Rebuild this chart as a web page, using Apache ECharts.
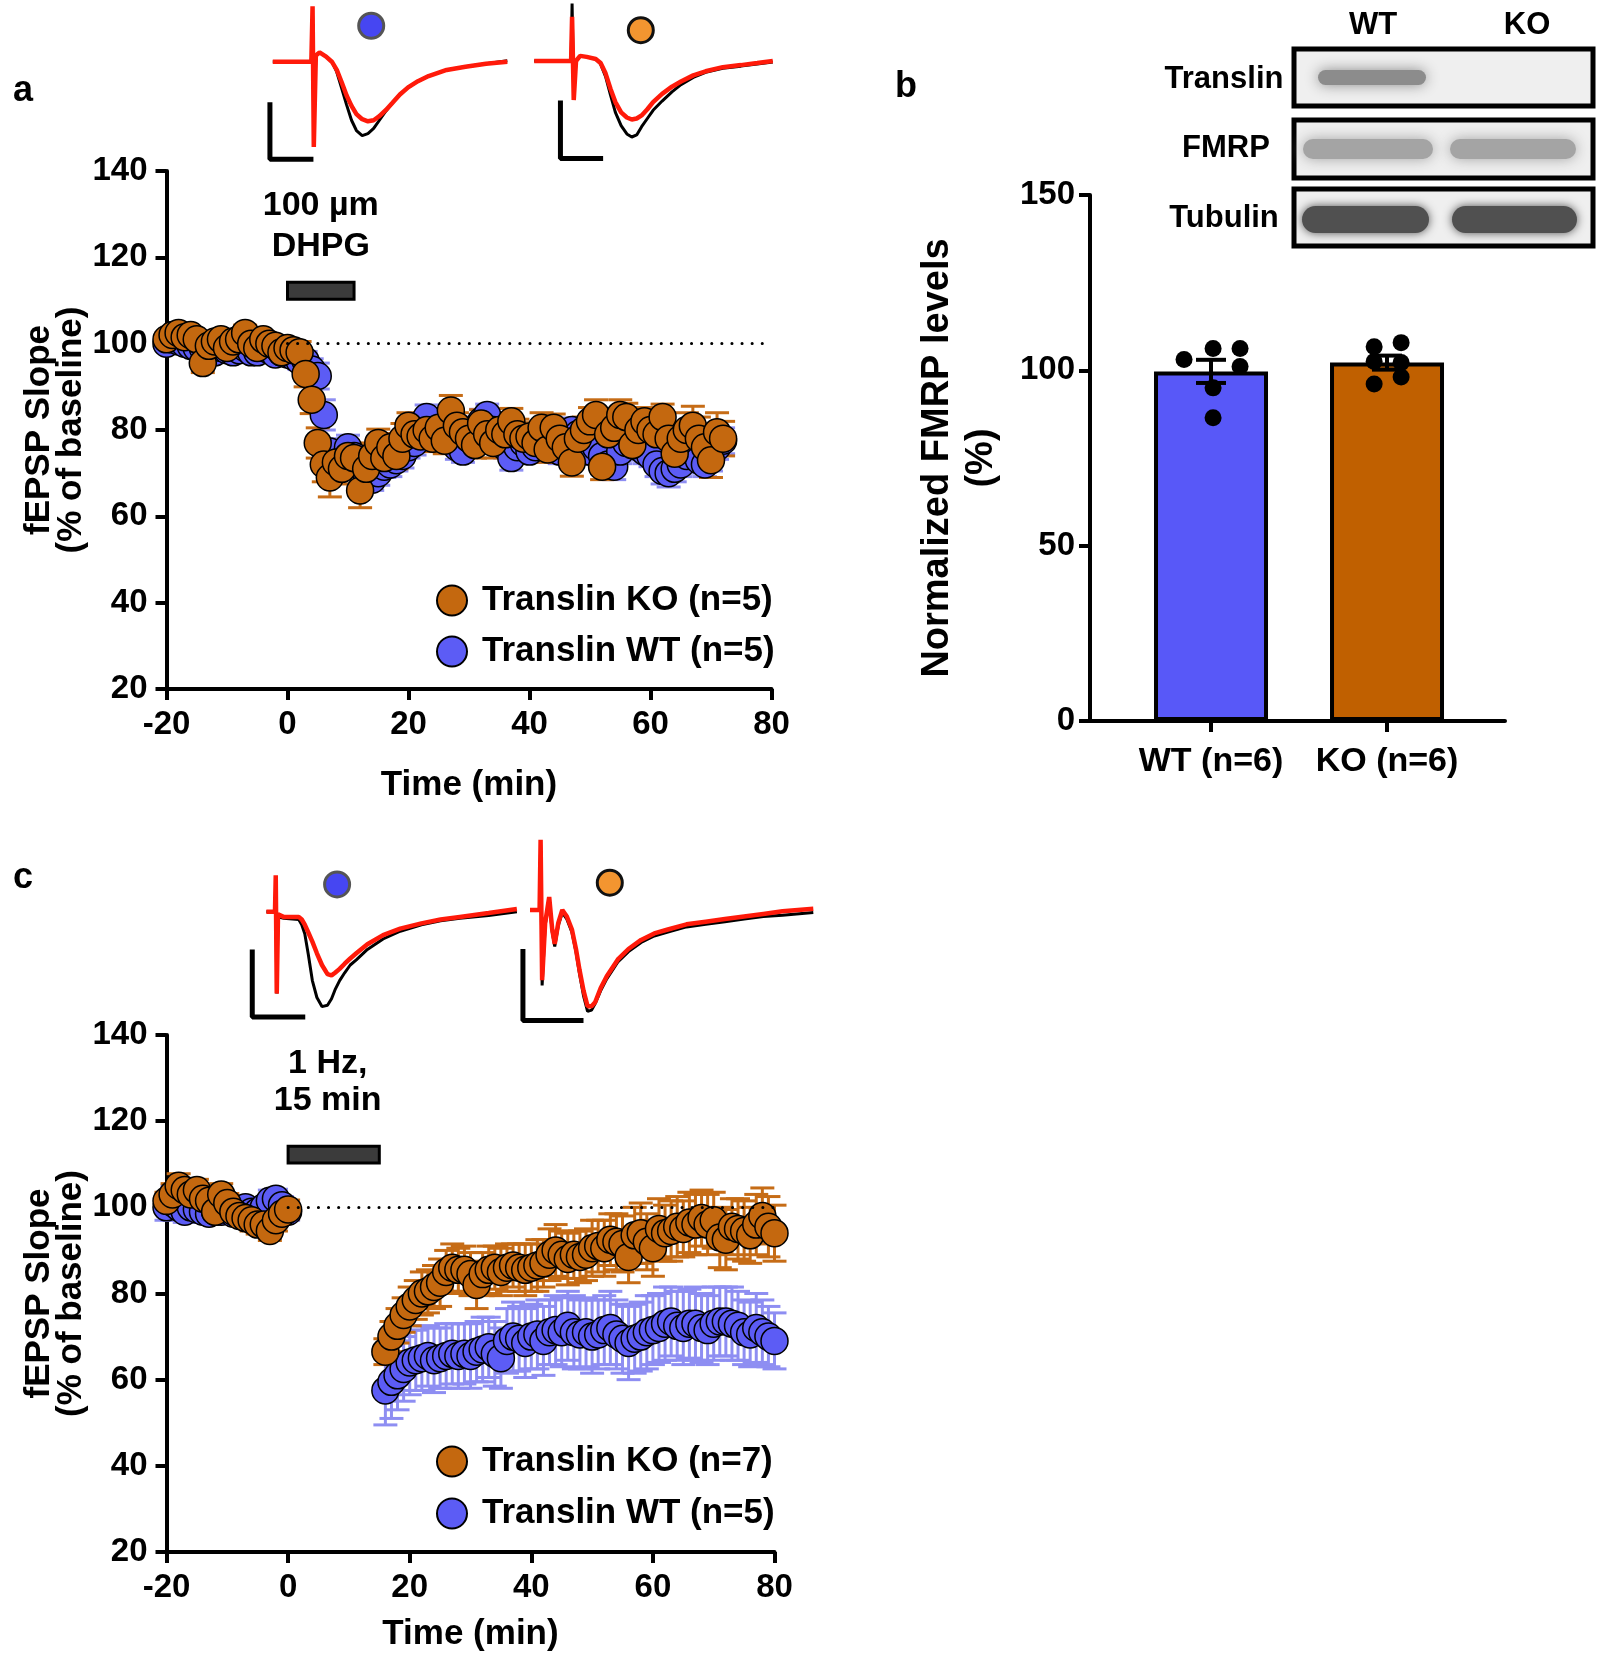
<!DOCTYPE html>
<html>
<head>
<meta charset="utf-8">
<script src="https://cdn.jsdelivr.net/npm/echarts@6/dist/echarts.min.js"></script>
<style>
  html, body { margin: 0; padding: 0; background: #fff; }
  #chart { width: 1600px; height: 1653px; }
</style>
</head>
<body>
<div id="chart"></div>
<script>
// ---- panel a: DHPG LTD (minutes, % of baseline) ----
const aTime = [
  -20, -19, -18, -17, -16, -15, -14, -13, -12, -11,
  -10, -9, -8, -7, -6, -5, -4, -3, -2, -1,
  0, 1, 2, 3, 4, 5, 6, 7, 8, 9,
  10, 11, 12, 13, 14, 15, 16, 17, 18, 19,
  20, 21, 22, 23, 24, 25, 26, 27, 28, 29,
  30, 31, 32, 33, 34, 35, 36, 37, 38, 39,
  40, 41, 42, 43, 44, 45, 46, 47, 48, 49,
  50, 51, 52, 53, 54, 55, 56, 57, 58, 59,
  60, 61, 62, 63, 64, 65, 66, 67, 68, 69,
  70, 71, 72
];
const aKO = [
  101, 102, 102.5, 101.5, 102, 101, 95.5, 99.5, 100.5, 101,
  99, 100.5, 101, 102.5, 100, 99, 101, 100, 99.5, 98,
  99, 98.5, 98, 93, 87, 77, 72, 69, 72.5, 71,
  74, 73.5, 66, 71, 74, 77, 73.5, 76, 74, 78,
  81, 79, 78.5, 80, 78, 80.5, 77.5, 84.5, 81, 79.5,
  78, 76.5, 81.5, 79, 77, 80, 79, 82, 79, 78,
  78.5, 77, 80.5, 75.5, 80.5, 78, 76, 72.5, 78, 80,
  82, 83.5, 71.5, 79, 80.5, 83.5, 83, 76.5, 80, 82,
  80, 79, 83, 78, 74.5, 78, 80, 81, 78, 76,
  73, 79.5, 78
];
const aKOErr = [
  1.5, 1.8, 2, 1.6, 1.5, 1.4, 2.2, 1.6, 1.5, 1.8,
  1.4, 1.6, 2, 1.8, 1.5, 1.6, 1.4, 1.5, 1.6, 1.8,
  2, 2.2, 2.5, 3, 3.2, 3.5, 4, 4.5, 4, 3.5,
  3.5, 3, 4, 3.5, 3, 3.2, 3, 3.2, 3, 3.5,
  3, 3.2, 3, 3.5, 3, 3.2, 3, 3.5, 3, 3.2,
  3.5, 3, 3.2, 3, 3.5, 3, 3.2, 3, 3.5, 3,
  3.2, 3, 3.5, 3, 3.2, 3.5, 3, 3.2, 3.5, 3,
  3.2, 3.5, 3, 3.2, 3, 3.5, 3.2, 3, 3.5, 3.2,
  3.5, 3.2, 3, 3.5, 4, 3.5, 4, 4.5, 5, 4.5,
  4, 4.5, 4
];
const aWT = [
  100, 101, 100.5, 100, 99.5, 99, 99, 98.5, 98, 99,
  98.5, 98, 98.5, 99, 98, 98, 99, 98.5, 97.5, 98,
  97.5, 97, 96, 96, 94, 92.5, 83.5, 75, 72, 73,
  76, 74, 72, 70, 68.5, 70, 71.5, 72, 73, 74,
  76, 77, 79, 83, 80, 79, 78, 79, 76, 75,
  78, 80, 82, 83.5, 80, 78, 76, 73.5, 76, 77,
  75, 76, 78, 77, 76, 75, 77, 80, 79, 77,
  75, 76, 74, 72, 71.5, 75, 77, 78, 76, 75,
  74, 72, 70.5, 70, 71, 72, 74, 75, 73, 72,
  73.5, 76, 77.5
];
const aWTErr = [
  1.2, 1.5, 1.4, 1.2, 1.3, 1.4, 1.2, 1.3, 1.5, 1.2,
  1.3, 1.4, 1.2, 1.5, 1.3, 1.2, 1.4, 1.3, 1.5, 1.4,
  1.5, 1.8, 2, 2.2, 2.5, 3, 3.5, 3, 3, 2.8,
  2.8, 2.5, 2.8, 3, 2.5, 2.8, 2.5, 2.8, 2.5, 2.8,
  2.5, 2.8, 3, 2.8, 3, 2.5, 2.8, 3, 2.8, 2.5,
  2.8, 3, 2.8, 2.5, 2.8, 3, 2.5, 2.8, 3, 2.8,
  2.5, 2.8, 3, 2.8, 2.5, 2.8, 3, 2.8, 2.5, 2.8,
  3, 2.8, 2.5, 2.8, 3, 2.8, 2.5, 2.8, 3, 2.8,
  2.5, 2.8, 3, 3.2, 3, 2.8, 3, 3.2, 3, 2.8,
  3, 2.8, 3
];

// ---- panel c: 1 Hz LFS LTD ----
const cTime = [
  -20, -19, -18, -17, -16, -15, -14, -13, -12, -11,
  -10, -9, -8, -7, -6, -5, -4, -3, -2, -1, 0,
  16, 17, 18, 19, 20, 21, 22, 23, 24, 25,
  26, 27, 28, 29, 30, 31, 32, 33, 34, 35,
  36, 37, 38, 39, 40, 41, 42, 43, 44, 45,
  46, 47, 48, 49, 50, 51, 52, 53, 54, 55,
  56, 57, 58, 59, 60, 61, 62, 63, 64, 65,
  66, 67, 68, 69, 70, 71, 72, 73, 74, 75,
  76, 77, 78, 79, 80
];
const cKO = [
  101.5, 103, 105, 104, 103, 104, 102, 101.5, 99, 103,
  101, 99, 98, 97.5, 97, 96, 96, 94.5, 97, 98.5, 99.5,
  66.5, 70, 72.5, 75, 77, 78.5, 80, 80.5, 81.5, 82.5,
  85, 86, 85.5, 85.5, 84.5, 82, 84.5, 85.5, 86, 85,
  86, 86.5, 86, 85.5, 86, 86.5, 87, 89, 90, 89,
  88, 89, 88.5, 89, 90.5, 91, 90.5, 92.5, 92, 91.5,
  88.5, 93.5, 94, 92, 90.5, 95, 94, 94.5, 95.5, 95,
  96.5, 96, 97.5, 96, 97, 93, 92.5, 95.5, 95, 94.5,
  93.5, 96, 98, 95.5, 94
];
const cKOErr = [
  2, 2.5, 2.8, 2.5, 2.2, 2.5, 2.2, 2, 2.2, 2.5,
  2.2, 2, 2.2, 2, 2.5, 2.2, 2, 2.2, 2.5, 2, 2.2,
  3, 3.5, 4, 4, 4.5, 4.5, 5, 5, 5, 5.5,
  5, 5.5, 5, 5.5, 5, 5.5, 5, 5.5, 5, 5.5,
  5.5, 5, 5.5, 6, 5.5, 6, 5.5, 6, 6, 5.5,
  6, 5.5, 6, 6, 6.5, 6, 6.5, 6, 6.5, 6.5,
  6, 6.5, 7, 6.5, 6.5, 7, 6.5, 7, 7, 6.5,
  7, 7, 6.5, 7, 6.5, 7, 7, 6.5, 7, 7,
  6.5, 7, 6.5, 7, 6.5
];
const cWT = [
  100, 101, 100, 99, 100, 99.5, 99, 98.5, 99, 99,
  99.5, 98.5, 99, 100, 99, 99, 100, 101.5, 102, 100.5, 99,
  57.5, 59.5, 61, 62.5, 64, 64.5, 65, 65.5, 64.5, 65,
  65.5, 66, 65.5, 66, 65.5, 66.5, 67, 67.5, 66, 65,
  69, 70, 69.5, 68.5, 70, 70.5, 69, 71, 71.5, 71,
  72.5, 71, 70.5, 71, 70, 70.5, 71.5, 72, 70.5, 69.5,
  68.5, 69.5, 70, 71, 71.5, 72, 73, 73.5, 72.5, 72,
  73, 73, 72, 71.5, 73, 73.5, 73.5, 73, 72.5, 71,
  70.5, 72, 71, 70, 69
];
const cWTErr = [
  3, 4, 3, 2.5, 2.5, 2, 2.5, 2, 2.2, 2,
  2.5, 2, 2.2, 2, 2.5, 2, 2.2, 2.5, 2.2, 2, 2,
  8, 8.5, 8, 7.5, 7.5, 7, 7.5, 7, 7.5, 7,
  7.5, 7, 7.5, 7, 7.5, 7, 7.5, 7, 7.5, 7,
  7.5, 8, 7.5, 8, 7.5, 8, 8, 7.5, 8, 8,
  8, 8.5, 8, 8, 8.5, 8, 8, 8.5, 8, 8,
  8.5, 8, 8, 8.5, 8, 8, 8.5, 8, 8, 8.5,
  8, 8.5, 8, 8, 8.5, 8, 8, 8.5, 8, 7.5,
  7.5, 8, 7.5, 7, 6.5
];

// ---- panel b: FMRP levels ----
const fmrpGroups = ['WT (n=6)', 'KO (n=6)'];
const fmrpMean = [99.7, 102.2];
const fmrpSem = [3.3, 2.0];
const fmrpWT = [103.1, 106.2, 106.2, 101.1, 95.0, 86.5];
const fmrpKO = [106.7, 107.9, 102.5, 102.2, 96.1, 98.1];

// ---- example traces (ms, mV) ----
const trA1Time  = [0, 4.7, 4.85, 5.0, 5.25, 5.7, 6.5, 7.2, 7.8, 8.4, 9.0, 9.6, 10.2, 10.9, 11.6, 12.3, 13.0, 13.8, 14.6, 15.5, 16.5, 17.7, 19.0, 21.2, 23.5, 26.0, 28.6];
const trA1Black = [0, 0, 0.45, -0.7, 0.06, 0.09, 0.05, 0.0, -0.1, -0.26, -0.42, -0.57, -0.67, -0.72, -0.70, -0.65, -0.57, -0.48, -0.40, -0.32, -0.25, -0.19, -0.14, -0.08, -0.05, -0.02, 0.01];
const trA1Red   = [0, 0, 0.54, -0.83, 0.06, 0.09, 0.05, 0.0, -0.08, -0.2, -0.33, -0.43, -0.51, -0.56, -0.58, -0.57, -0.53, -0.47, -0.40, -0.32, -0.25, -0.19, -0.14, -0.08, -0.05, -0.02, 0.0];

const trA2Time  = [0, 4.5, 4.62, 4.82, 5.1, 5.6, 6.4, 7.5, 8.1, 8.7, 9.3, 9.9, 10.6, 11.3, 11.9, 12.5, 13.1, 13.8, 14.5, 15.6, 16.8, 17.9, 19.4, 20.9, 23.0, 25.2, 27.2, 29.1];
const trA2Black = [0, 0, 0.56, -0.35, 0.0, 0.05, 0.04, 0.02, -0.03, -0.15, -0.33, -0.50, -0.63, -0.71, -0.74, -0.72, -0.64, -0.56, -0.48, -0.39, -0.30, -0.23, -0.16, -0.11, -0.07, -0.05, -0.03, -0.01];
const trA2Red   = [0, 0, 0.43, -0.38, 0.0, 0.05, 0.04, 0.02, -0.02, -0.12, -0.27, -0.40, -0.50, -0.55, -0.57, -0.56, -0.53, -0.47, -0.40, -0.32, -0.25, -0.20, -0.14, -0.10, -0.06, -0.04, -0.02, 0.0];

const trC1Time  = [0, 1.7, 1.85, 2.05, 2.3, 3.4, 6.4, 7.0, 7.6, 8.3, 9.1, 10.0, 11.0, 12.1, 12.9, 13.6, 14.5, 15.5, 16.6, 17.8, 20.0, 23.1, 26.5, 30.7, 34.5, 38.3, 44.0, 49.6];
const trC1Black = [0, 0, 0.24, -0.63, -0.04, -0.05, -0.06, -0.10, -0.17, -0.33, -0.53, -0.66, -0.73, -0.72, -0.67, -0.60, -0.53, -0.47, -0.41, -0.37, -0.29, -0.21, -0.15, -0.10, -0.07, -0.05, -0.03, 0.0];
const trC1Red   = [0, 0, 0.28, -0.63, -0.02, -0.04, -0.04, -0.06, -0.10, -0.16, -0.23, -0.32, -0.41, -0.48, -0.49, -0.47, -0.44, -0.40, -0.36, -0.32, -0.25, -0.18, -0.13, -0.09, -0.06, -0.04, -0.01, 0.02];

const trC2Time  = [0, 1.9, 2.1, 2.4, 3.0, 3.8, 4.4, 4.9, 5.6, 6.4, 7.3, 8.3, 9.1, 9.8, 10.6, 11.4, 12.2, 12.9, 14.0, 15.2, 17.4, 19.5, 22.0, 24.6, 27.3, 31.0, 34.8, 38.6, 42.4, 46.2, 50.0, 56.1];
const trC2Black = [0, 0, 0.5, -0.58, -0.12, 0.08, -0.17, -0.28, -0.12, -0.02, -0.07, -0.17, -0.32, -0.49, -0.66, -0.78, -0.77, -0.72, -0.62, -0.53, -0.40, -0.32, -0.25, -0.20, -0.17, -0.13, -0.11, -0.09, -0.07, -0.05, -0.04, -0.02];
const trC2Red   = [0, 0, 0.54, -0.54, -0.10, 0.10, -0.15, -0.26, -0.10, 0.0, -0.05, -0.15, -0.30, -0.46, -0.62, -0.74, -0.74, -0.71, -0.60, -0.51, -0.38, -0.30, -0.23, -0.18, -0.15, -0.11, -0.09, -0.07, -0.05, -0.03, -0.01, 0.01];

const FONT = "'Liberation Sans', Arial, Helvetica, sans-serif";
const KO_COLOR = '#c4680f';
const WT_COLOR = '#5c5cf5';
const KO_ERR = '#c66c16';
const WT_ERR = '#8e8ef2';

const chart = echarts.init(document.getElementById('chart'));

function pairs(xs, ys) {
  return xs.map((x, i) => [x, ys[i]]);
}
function triples(xs, ys, es) {
  return xs.map((x, i) => [x, ys[i], es[i]]);
}

// vertical error bar with caps on both ends
function errorBar(capHalf, color, width) {
  return function (params, api) {
    const x = api.value(0), y = api.value(1), e = api.value(2);
    const hi = api.coord([x, y + e]);
    const lo = api.coord([x, y - e]);
    const style = { stroke: color, lineWidth: width };
    return {
      type: 'group',
      children: [
        { type: 'line', shape: { x1: hi[0], y1: hi[1], x2: lo[0], y2: lo[1] }, style },
        { type: 'line', shape: { x1: hi[0] - capHalf, y1: hi[1], x2: hi[0] + capHalf, y2: hi[1] }, style },
        { type: 'line', shape: { x1: lo[0] - capHalf, y1: lo[1], x2: lo[0] + capHalf, y2: lo[1] }, style }
      ]
    };
  };
}

// grid placed so that trace origin (0 ms, 0 mV) lands at (x0, y0)
function traceGrid(x0, y0, pxMs, pxMv, tMin, tMax, vMin, vMax) {
  return {
    left: x0 + tMin * pxMs,
    top: y0 - vMax * pxMv,
    width: (tMax - tMin) * pxMs,
    height: (vMax - vMin) * pxMv
  };
}

const axisLineStyle = { lineStyle: { color: '#000', width: 4 }, onZero: false };
const tickStyle = { show: true, length: 11, lineStyle: { color: '#000', width: 4 } };
const tickLabel = { fontSize: 33, fontWeight: 'bold', color: '#000', fontFamily: FONT };

function timeXAxis(gridIndex, nameGap) {
  return {
    type: 'value', gridIndex, min: -20, max: 80, interval: 20,
    axisLine: axisLineStyle, axisTick: tickStyle,
    axisLabel: Object.assign({ margin: 19, showMinLabel: true, showMaxLabel: true }, tickLabel),
    splitLine: { show: false },
    name: 'Time (min)', nameLocation: 'middle', nameGap,
    nameTextStyle: { fontSize: 35, fontWeight: 'bold', color: '#000', fontFamily: FONT }
  };
}
function slopeYAxis(gridIndex) {
  return {
    type: 'value', gridIndex, min: 20, max: 140, interval: 20,
    axisLine: axisLineStyle, axisTick: tickStyle,
    axisLabel: Object.assign({ margin: 19 }, tickLabel),
    splitLine: { show: false },
    name: 'fEPSP Slope\n(% of baseline)', nameLocation: 'middle', nameGap: 73, nameRotate: 90,
    nameTextStyle: { fontSize: 35, fontWeight: 'bold', color: '#000', lineHeight: 32, fontFamily: FONT }
  };
}
function hiddenAxis(gridIndex, min, max) {
  return { type: 'value', gridIndex, min, max, show: false, splitLine: { show: false } };
}

const fmrpPos = [0.2916, 0.7157];
const wtJitter = [-0.065, 0.005, 0.07, 0.07, 0.005, 0.005];
const koJitter = [-0.031, 0.034, -0.031, 0.034, -0.031, 0.034];

function stimMarkers(gridIndex, t1, label, offsetX, distance, lineHeight) {
  return {
    type: 'line', xAxisIndex: gridIndex, yAxisIndex: gridIndex, data: [], z: 1,
    markLine: {
      silent: true, symbol: ['none', 'none'],
      lineStyle: { color: '#000', width: 3, type: [0.1, 10], cap: 'round' },
      label: { show: false },
      data: [[{ coord: [0, 100] }, { coord: [80, 100] }]]
    },
    markArea: {
      silent: true,
      itemStyle: { color: '#3b3b3b', borderColor: '#000', borderWidth: 3 },
      label: {
        show: true, position: 'top', formatter: label, distance, offset: [offsetX, 0],
        fontSize: 34, fontWeight: 'bold', color: '#000', lineHeight, fontFamily: FONT, align: 'center'
      },
      data: [[{ coord: [0, 110.3] }, { coord: [t1, 114.2] }]]
    }
  };
}

function panelSeries(gridIndex, time, ko, koErr, wt, wtErr, koName, wtName) {
  return [
    {
      type: 'custom', xAxisIndex: gridIndex, yAxisIndex: gridIndex, z: 2,
      renderItem: errorBar(12, WT_ERR, 3), data: triples(time, wt, wtErr)
    },
    {
      type: 'custom', xAxisIndex: gridIndex, yAxisIndex: gridIndex, z: 2,
      renderItem: errorBar(12, KO_ERR, 3), data: triples(time, ko, koErr)
    },
    {
      name: wtName, type: 'scatter', xAxisIndex: gridIndex, yAxisIndex: gridIndex, z: 3,
      symbol: 'circle', symbolSize: 27,
      itemStyle: { color: WT_COLOR, borderColor: '#000', borderWidth: 1.5, opacity: 1 },
      data: pairs(time, wt)
    },
    {
      name: koName, type: 'scatter', xAxisIndex: gridIndex, yAxisIndex: gridIndex, z: 4,
      symbol: 'circle', symbolSize: 27,
      itemStyle: { color: KO_COLOR, borderColor: '#000', borderWidth: 1.5, opacity: 1 },
      data: pairs(time, ko)
    }
  ];
}

function traceSeries(gridIndex, time, black, red, scaleBar, dot, dotFill, dotStroke) {
  return [
    {
      type: 'line', xAxisIndex: gridIndex, yAxisIndex: gridIndex, showSymbol: false, z: 2,
      lineStyle: { color: '#000', width: 3 }, data: pairs(time, black)
    },
    {
      type: 'line', xAxisIndex: gridIndex, yAxisIndex: gridIndex, showSymbol: false, z: 3,
      lineStyle: { color: '#ff1a0a', width: 4.5 }, data: pairs(time, red)
    },
    {
      type: 'line', xAxisIndex: gridIndex, yAxisIndex: gridIndex, showSymbol: false, z: 2,
      lineStyle: { color: '#000', width: 5, cap: 'square' }, data: scaleBar
    },
    {
      type: 'scatter', xAxisIndex: gridIndex, yAxisIndex: gridIndex, z: 4, symbolSize: 25,
      itemStyle: { color: dotFill, borderColor: dotStroke, borderWidth: 3, opacity: 1 }, data: [dot]
    }
  ];
}

const gA1 = traceGrid(272.8, 61.7, 8.2, 102.7, -1, 30, -1.0, 0.6);
const gA2 = traceGrid(534.2, 61.0, 8.2, 102.7, -1, 30, -1.0, 0.59);
const gC1 = traceGrid(266.4, 911.7, 5.05, 130, -4, 58, -0.9, 0.6);
const gC2 = traceGrid(530, 910, 5.05, 130, -4, 58, -0.9, 0.6);

// western blot inset (picture, not data)
function blotBox(y, h) {
  return { type: 'rect', shape: { x: 1294, y, width: 299, height: h }, style: { fill: '#efefef', stroke: '#000', lineWidth: 5 }, z: 10 };
}
function band(x, y, w, h, color, blur) {
  return { type: 'rect', shape: { x, y, width: w, height: h, r: h / 2 }, style: { fill: color, shadowBlur: blur, shadowColor: color }, z: 11 };
}
function blotText(text, x, y) {
  return { type: 'text', x, y, z: 12, style: { text, fill: '#000', font: 'bold 31px ' + FONT, textAlign: 'center', textVerticalAlign: 'middle' } };
}
function panelLetter(text, x, y) {
  return { type: 'text', x, y, style: { text, fill: '#000', font: 'bold 36px ' + FONT, textAlign: 'center', textVerticalAlign: 'middle' } };
}

const option = {
  animation: false,
  backgroundColor: '#fff',
  textStyle: { fontFamily: FONT },
  grid: [
    { left: 166.5, top: 171, width: 605, height: 518 },
    { left: 166.5, top: 1035, width: 608, height: 518 },
    { left: 1090, top: 195, width: 415, height: 526 },
    gA1, gA2, gC1, gC2
  ],
  xAxis: [
    timeXAxis(0, 79),
    timeXAxis(1, 65),
    {
      type: 'value', gridIndex: 2, min: 0, max: 1,
      axisLine: axisLineStyle,
      axisTick: Object.assign({ customValues: fmrpPos }, tickStyle),
      axisLabel: Object.assign({
        customValues: fmrpPos, margin: 24, fontSize: 34,
        formatter: function (v) {
          let best = 0;
          fmrpPos.forEach((p, i) => { if (Math.abs(p - v) < Math.abs(fmrpPos[best] - v)) best = i; });
          return fmrpGroups[best];
        }
      }, { fontWeight: 'bold', color: '#000', fontFamily: FONT }),
      splitLine: { show: false }
    },
    hiddenAxis(3, -1, 30), hiddenAxis(4, -1, 30), hiddenAxis(5, -4, 58), hiddenAxis(6, -4, 58)
  ],
  yAxis: [
    slopeYAxis(0),
    slopeYAxis(1),
    {
      type: 'value', gridIndex: 2, min: 0, max: 150, interval: 50,
      axisLine: axisLineStyle, axisTick: tickStyle,
      axisLabel: Object.assign({ margin: 15 }, tickLabel),
      splitLine: { show: false },
      name: 'Normalized FMRP levels\n(%)', nameLocation: 'middle', nameGap: 86, nameRotate: 90,
      nameTextStyle: { fontSize: 38, fontWeight: 'bold', color: '#000', lineHeight: 44, fontFamily: FONT }
    },
    hiddenAxis(3, -1.0, 0.6), hiddenAxis(4, -1.0, 0.59), hiddenAxis(5, -0.9, 0.6), hiddenAxis(6, -0.9, 0.6)
  ],
  legend: [
    {
      data: ['Translin KO (n=5)', 'Translin WT (n=5)'],
      left: 431, top: 578, orient: 'vertical', icon: 'circle',
      itemWidth: 30, itemHeight: 30, itemGap: 16, selectedMode: false,
      textStyle: { fontSize: 35, fontWeight: 'bold', color: '#000', lineHeight: 34, padding: [0, 0, 0, 10], fontFamily: FONT }
    },
    {
      data: ['Translin KO (n=7)', 'Translin WT (n=5)'],
      left: 431, top: 1439, orient: 'vertical', icon: 'circle',
      itemWidth: 30, itemHeight: 30, itemGap: 17, selectedMode: false,
      textStyle: { fontSize: 35, fontWeight: 'bold', color: '#000', lineHeight: 34, padding: [0, 0, 0, 10], fontFamily: FONT }
    }
  ],
  graphic: [
    panelLetter('a', 23, 91),
    panelLetter('b', 906, 87),
    panelLetter('c', 23, 878),
    blotText('WT', 1373, 25),
    blotText('KO', 1527, 25),
    blotText('Translin', 1224, 79),
    blotText('FMRP', 1226, 148),
    blotText('Tubulin', 1224, 218),
    blotBox(49, 57),
    blotBox(120, 58),
    blotBox(189, 57),
    band(1318, 70, 108, 15, '#8c8c8c', 14),
    band(1303, 139, 130, 20, '#a4a4a4', 14),
    band(1450, 139, 126, 20, '#a4a4a4', 14),
    band(1302, 206, 127, 27, '#505050', 10),
    band(1452, 206, 125, 27, '#505050', 10)
  ],
  series: [
    stimMarkers(0, 11, '100 µm\nDHPG', 0, 14, 41),
    ...panelSeries(0, aTime, aKO, aKOErr, aWT, aWTErr, 'Translin KO (n=5)', 'Translin WT (n=5)'),
    stimMarkers(1, 15, '1 Hz,\n15 min', -6, 26, 37),
    ...panelSeries(1, cTime, cKO, cKOErr, cWT, cWTErr, 'Translin KO (n=7)', 'Translin WT (n=5)'),

    // panel b
    {
      type: 'bar', xAxisIndex: 2, yAxisIndex: 2, barWidth: 114, z: 2,
      data: [
        { value: [fmrpPos[0], fmrpMean[0]], itemStyle: { color: '#5858f8', borderColor: '#000', borderWidth: 4 } },
        { value: [fmrpPos[1], fmrpMean[1]], itemStyle: { color: '#c06000', borderColor: '#000', borderWidth: 4 } }
      ]
    },
    {
      type: 'scatter', xAxisIndex: 2, yAxisIndex: 2, z: 3, symbolSize: 17,
      itemStyle: { color: '#000', opacity: 1 },
      data: fmrpWT.map((v, i) => [fmrpPos[0] + wtJitter[i], v])
        .concat(fmrpKO.map((v, i) => [fmrpPos[1] + koJitter[i], v]))
    },
    {
      type: 'custom', xAxisIndex: 2, yAxisIndex: 2, z: 4,
      renderItem: errorBar(15, '#000', 4),
      data: triples(fmrpPos, fmrpMean, fmrpSem)
    },

    // example traces
    ...traceSeries(3, trA1Time, trA1Black, trA1Red, [[-0.35, -0.42], [-0.35, -0.95], [4.65, -0.95]], [12.0, 0.35], '#4646f2', '#555'),
    ...traceSeries(4, trA2Time, trA2Black, trA2Red, [[3.2, -0.41], [3.2, -0.95], [8.1, -0.95]], [13.0, 0.30], '#f39530', '#111'),
    ...traceSeries(5, trC1Time, trC1Black, trC1Red, [[-2.8, -0.31], [-2.8, -0.81], [7.2, -0.81]], [14.0, 0.21], '#4646f2', '#555'),
    ...traceSeries(6, trC2Time, trC2Black, trC2Red, [[-1.4, -0.32], [-1.4, -0.85], [10.1, -0.85]], [15.8, 0.21], '#f39530', '#111')
  ]
};

chart.setOption(option);
</script>
</body>
</html>
